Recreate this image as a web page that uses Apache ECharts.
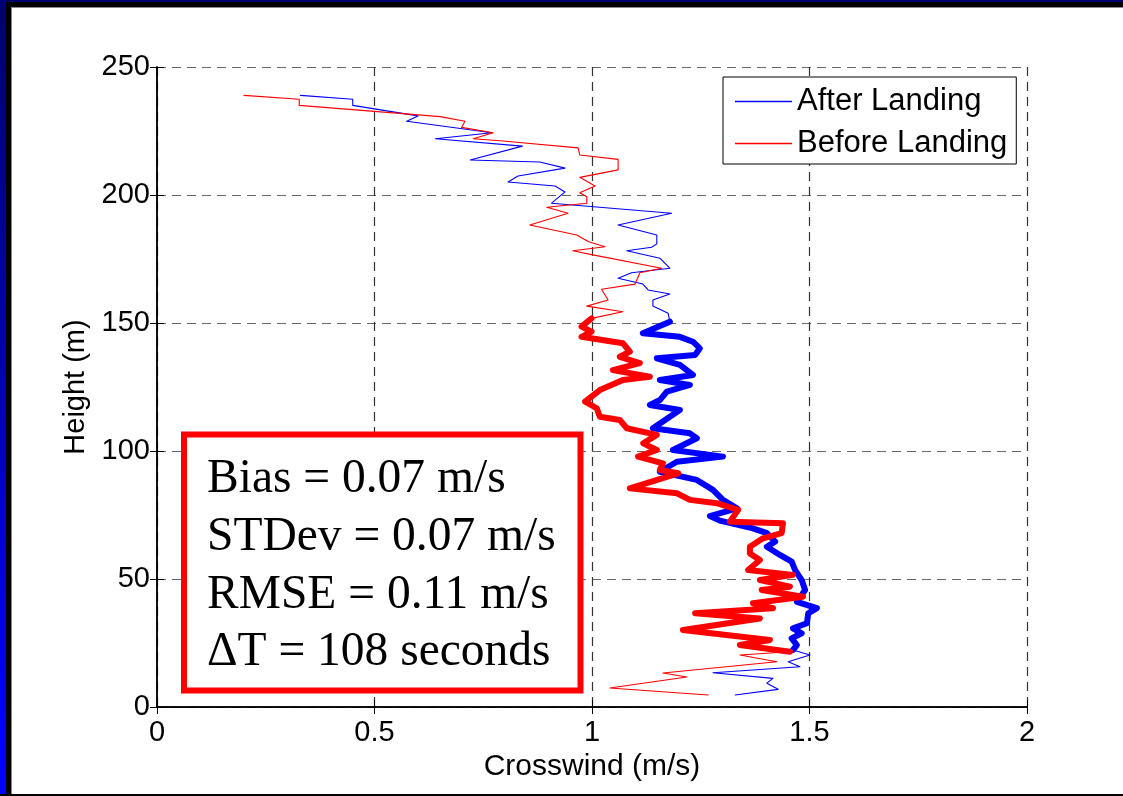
<!DOCTYPE html>
<html>
<head>
<meta charset="utf-8">
<script src="https://cdn.jsdelivr.net/npm/echarts@6/dist/echarts.min.js"></script>
<style>
  html, body { margin: 0; padding: 0; background: #fff; }
  #wrap { position: relative; width: 1123px; height: 796px; overflow: hidden; background: #fff; }
  #chart { position: absolute; left: 0; top: 0; width: 1123px; height: 796px; }
  .edge { position: absolute; z-index: 5; }
</style>
</head>
<body>
<div id="wrap">
  <div id="chart"></div>
  <!-- slide frame -->
  <div class="edge" style="left:0;top:0;width:1123px;height:2px;background:#000070;"></div>
  <div class="edge" style="left:6px;top:2px;width:1117px;height:5px;background:#000;"></div>
  <div class="edge" style="left:0;top:0;width:6px;height:796px;background:linear-gradient(#000070,#0000ff);"></div>
  <div class="edge" style="left:6px;top:2px;width:5px;height:794px;background:#000;"></div>
  <div class="edge" style="left:11px;top:7px;width:1px;height:789px;background:#888;"></div>
  <div class="edge" style="left:11px;top:7px;width:1112px;height:1px;background:#888;"></div>
  <div class="edge" style="left:0;top:794px;width:1123px;height:2px;background:#000;"></div>
</div>
<script>
// Crosswind profiles: [crosswind m/s, height m]
const afterTop = [
  [0.33, 238.9], [0.45, 237.4], [0.45, 235.0], [0.60, 230.9], [0.574, 228.8],
  [0.77, 224.3], [0.64, 222.0], [0.84, 219.1], [0.72, 213.7], [0.88, 212.9],
  [0.938, 210.5], [0.83, 207.4], [0.807, 205.1], [0.915, 203.5], [0.938, 201.2],
  [0.907, 196.8], [1.183, 192.9], [1.060, 188.3], [1.149, 184.4], [1.149, 180.9],
  [1.137, 179.6], [1.080, 178.2], [1.156, 175.3], [1.179, 171.4], [1.091, 169.6],
  [1.060, 167.5], [1.117, 165.2], [1.129, 162.9], [1.179, 161.3], [1.140, 159.0],
  [1.140, 156.6], [1.175, 153.8], [1.179, 150.5]
];
const afterCore = [
  [1.179, 150.5], [1.117, 146.0], [1.202, 144.6], [1.232, 142.7], [1.248, 140.1],
  [1.237, 137.5], [1.149, 136.2], [1.202, 133.6], [1.232, 129.7], [1.156, 127.7],
  [1.225, 125.8], [1.172, 123.2], [1.156, 119.9], [1.133, 118.0], [1.202, 116.0],
  [1.179, 113.4], [1.140, 108.9], [1.225, 106.9], [1.241, 105.0], [1.186, 100.4],
  [1.301, 97.8], [1.195, 95.8], [1.156, 91.9], [1.241, 88.7], [1.278, 84.8],
  [1.301, 80.9], [1.333, 77.6], [1.271, 74.6], [1.294, 72.8], [1.370, 69.8],
  [1.402, 67.9], [1.421, 64.6], [1.402, 62.6], [1.432, 59.4], [1.459, 56.8],
  [1.467, 53.5], [1.482, 49.6], [1.490, 45.7], [1.471, 41.1], [1.517, 38.6],
  [1.497, 36.6], [1.494, 32.7], [1.462, 30.7], [1.482, 28.8], [1.459, 26.8],
  [1.471, 24.2], [1.462, 22.3]
];
const afterBottom = [
  [1.462, 22.3], [1.501, 20.3], [1.451, 17.7], [1.478, 15.7], [1.278, 13.4],
  [1.416, 11.2], [1.402, 9.3], [1.428, 6.9], [1.329, 4.7]
];
const beforeTop = [
  [0.200, 238.9], [0.327, 237.4], [0.327, 235.0], [0.651, 230.6], [0.708, 228.8],
  [0.700, 226.4], [0.773, 224.3], [0.727, 222.0], [0.789, 221.2], [0.968, 218.4],
  [0.972, 215.6], [1.060, 213.9], [1.060, 209.8], [0.972, 206.9], [1.007, 203.5],
  [0.972, 200.9], [0.988, 199.3], [0.988, 196.8], [0.896, 195.2], [0.945, 192.9],
  [0.857, 188.3], [0.965, 184.4], [0.991, 181.8], [1.030, 179.8], [0.956, 178.2],
  [1.002, 176.6], [1.160, 171.4], [1.110, 169.6], [1.099, 165.2], [1.022, 163.2],
  [1.037, 159.0], [0.988, 156.6], [1.071, 154.4], [0.999, 151.8]
];
const beforeCore = [
  [0.999, 151.8], [0.976, 148.6], [0.999, 146.6], [0.976, 144.6], [1.071, 142.1],
  [1.087, 138.8], [1.064, 136.8], [1.110, 134.3], [1.048, 131.6], [1.133, 129.0],
  [1.071, 127.7], [1.018, 123.8], [0.984, 119.3], [1.011, 116.7], [1.018, 113.4],
  [1.064, 112.1], [1.080, 108.9], [1.149, 106.3], [1.118, 103.0], [1.149, 100.4],
  [1.106, 97.8], [1.163, 95.2], [1.156, 92.6], [1.198, 91.3], [1.087, 85.4],
  [1.195, 83.5], [1.225, 80.9], [1.287, 79.6], [1.336, 77.0], [1.317, 72.4],
  [1.439, 71.8], [1.436, 67.9], [1.393, 65.9], [1.363, 62.6], [1.363, 60.0],
  [1.386, 57.4], [1.359, 53.5], [1.462, 51.6], [1.386, 49.6], [1.455, 47.0],
  [1.390, 45.7], [1.485, 43.1], [1.370, 40.5], [1.416, 38.6], [1.237, 36.6],
  [1.386, 34.6], [1.209, 30.1], [1.409, 26.2], [1.340, 24.2], [1.455, 21.6]
];
const beforeBottom = [
  [1.455, 21.6], [1.340, 20.3], [1.425, 17.7], [1.163, 13.3], [1.218, 11.7],
  [1.041, 7.4], [1.267, 4.7]
];
const seriesNames = ['After Landing', 'Before Landing'];
const xTicks = [0, 0.5, 1, 1.5, 2];
const yTicks = [0, 50, 100, 150, 200, 250];
const statLines = ['Bias = 0.07 m/s', 'STDev = 0.07 m/s', 'RMSE = 0.11 m/s', '\u0394T = 108 seconds'];

const BLUE = '#0000ff', RED = '#ff0000';
const sans = 'Liberation Sans, Arial, sans-serif';
const serif = 'Liberation Serif, Times New Roman, serif';

function seg(name, color, data, width) {
  return {
    type: 'line', name: name, data: data, color: color,
    showSymbol: false, symbol: 'none', animation: false,
    lineStyle: { color: color, width: width, join: 'round', cap: 'round' },
    emphasis: { disabled: true }
  };
}

const chart = echarts.init(document.getElementById('chart'), null, { renderer: 'canvas' });
const axisCommon = {
  type: 'value',
  axisLine: { show: true, lineStyle: { color: '#000', width: 1.5 } },
  axisTick: { show: true, inside: true, length: 7, lineStyle: { color: '#000', width: 1 } }
};
const mirror = {
  type: 'value',
  axisLine: { show: true, lineStyle: { color: '#000', width: 1.5 } },
  axisTick: { show: true, inside: true, length: 7, lineStyle: { color: '#000', width: 1 } },
  axisLabel: { show: false }, splitLine: { show: false }
};

chart.setOption({
  backgroundColor: 'transparent',
  animation: false,
  grid: { left: 157, right: 96, top: 67, bottom: 89 },
  legend: {
    data: seriesNames,
    orient: 'vertical',
    left: 723, top: 77,
    padding: [9, 9, 5, 12],
    itemGap: 11,
    itemWidth: 57, itemHeight: 1.5,
    icon: 'rect',
    borderColor: '#000', borderWidth: 1, borderRadius: 0,
    backgroundColor: '#fff',
    selectedMode: false,
    textStyle: { fontFamily: sans, fontSize: 31, color: '#000', lineHeight: 30 }
  },
  xAxis: [
    Object.assign({}, axisCommon, {
      min: xTicks[0], max: xTicks[xTicks.length - 1], interval: 0.5,
      position: 'bottom',
      name: 'Crosswind (m/s)', nameLocation: 'middle', nameGap: 44,
      nameTextStyle: { fontFamily: sans, fontSize: 30, color: '#000' },
      axisLabel: { fontFamily: sans, fontSize: 29, color: '#000', margin: 11,
        formatter: v => String(v) },
      splitLine: { show: true, lineStyle: { color: '#333', type: [9, 6], width: 1.2 } }
    }),
    Object.assign({}, mirror, { min: 0, max: 2, interval: 0.5, position: 'top' })
  ],
  yAxis: [
    Object.assign({}, axisCommon, {
      min: yTicks[0], max: yTicks[yTicks.length - 1], interval: 50,
      position: 'left',
      name: 'Height (m)', nameLocation: 'middle', nameGap: 67, nameRotate: 90,
      nameTextStyle: { fontFamily: sans, fontSize: 29, color: '#000' },
      axisLabel: { fontFamily: sans, fontSize: 29, color: '#000', margin: 7 },
      splitLine: { show: true, lineStyle: { color: '#666', type: [9, 6], width: 1.2 } }
    }),
    Object.assign({}, mirror, { min: 0, max: 250, interval: 50, position: 'right' })
  ],
  series: [
    seg(seriesNames[0], BLUE, afterTop, 1.1),
    seg(seriesNames[0], BLUE, afterCore, 6),
    seg(seriesNames[0], BLUE, afterBottom, 1.1),
    seg(seriesNames[1], RED, beforeTop, 1.1),
    seg(seriesNames[1], RED, beforeCore, 6),
    seg(seriesNames[1], RED, beforeBottom, 1.1)
  ],
  graphic: [
    {
      type: 'rect', z: 100,
      shape: { x: 184, y: 434.5, width: 396.5, height: 256 },
      style: { fill: '#fff', stroke: RED, lineWidth: 6 }
    }
  ].concat(statLines.map((t, i) => ({
    type: 'text', z: 101,
    left: 207, top: [483, 541, 599, 656][i] - 27,
    style: { text: t, font: '47.5px ' + serif, fill: '#000' }
  })))
});
</script>
</body>
</html>
